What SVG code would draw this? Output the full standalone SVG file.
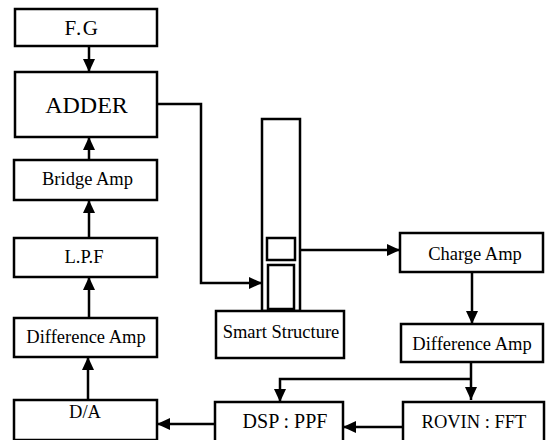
<svg xmlns="http://www.w3.org/2000/svg" width="547" height="440" viewBox="0 0 547 440">
<style>
.box{fill:#fff;stroke:#000;stroke-width:2.5}
.ln{fill:none;stroke:#000;stroke-width:2.5}
text{fill:#000;text-anchor:middle}
</style>
<defs>
<marker id="ah" markerUnits="userSpaceOnUse" markerWidth="14" markerHeight="12" refX="13" refY="6" orient="auto">
<path d="M0,0 L13,6 L0,12 Z" fill="#000"/>
</marker>
</defs>
<rect width="547" height="440" fill="#fff"/>
<g id="connectors">
<path class="ln" d="M89,46 V72" marker-end="url(#ah)"/>
<path class="ln" d="M89,160 V137" marker-end="url(#ah)"/>
<path class="ln" d="M89,238 V200" marker-end="url(#ah)"/>
<path class="ln" d="M89,318 V277" marker-end="url(#ah)"/>
<path class="ln" d="M88,400 V357" marker-end="url(#ah)"/>
<path class="ln" d="M157,104 H201 V283 H262" marker-end="url(#ah)"/>
<path class="ln" d="M295,250 H400" marker-end="url(#ah)"/>
<path class="ln" d="M472,272 V324" marker-end="url(#ah)"/>
<path class="ln" d="M471,362 V400" marker-end="url(#ah)"/>
<path class="ln" d="M471,379 H280 V402" marker-end="url(#ah)"/>
<path class="ln" d="M403,427 H343" marker-end="url(#ah)"/>
<path class="ln" d="M215,424 H157" marker-end="url(#ah)"/>
</g>
<g font-family="'Liberation Serif', 'Times New Roman', serif" font-size="18.5">
<g id="fg"><rect class="box" x="15" y="9" width="142" height="37"/><text x="82" y="35" font-size="21" letter-spacing="1.5">F.G</text></g>
<g id="adder"><rect class="box" x="15" y="72" width="142" height="65"/><text x="86.5" y="113" font-size="24">ADDER</text></g>
<g id="bridge"><rect class="box" x="14" y="160" width="143" height="40"/><text x="87.5" y="185">Bridge Amp</text></g>
<g id="lpf"><rect class="box" x="14" y="238" width="143" height="39"/><text x="84" y="263">L.P.F</text></g>
<g id="diffL"><rect class="box" x="14" y="318" width="143" height="39"/><text x="86" y="343">Difference Amp</text></g>
<g id="da"><rect class="box" x="14" y="400" width="143" height="40"/><text x="85" y="418">D/A</text></g>
<g id="smart">
<rect class="box" x="262" y="119" width="38" height="192"/>
<rect class="box" x="267" y="238" width="28" height="22"/>
<rect class="box" x="268" y="265" width="26" height="44"/>
<rect class="box" x="216" y="311" width="128" height="47"/>
<text x="281" y="338">Smart Structure</text>
</g>
<g id="charge"><rect class="box" x="400" y="233" width="143" height="39"/><text x="475" y="260">Charge Amp</text></g>
<g id="diffR"><rect class="box" x="401" y="324" width="142" height="38"/><text x="472" y="350">Difference Amp</text></g>
<g id="rovin"><rect class="box" x="403" y="402" width="141" height="40"/><text x="474" y="428">ROVIN : FFT</text></g>
<g id="dsp"><rect class="box" x="215" y="402" width="128" height="40"/><text x="285" y="428" font-size="20">DSP : PPF</text></g>
</g>
</svg>
